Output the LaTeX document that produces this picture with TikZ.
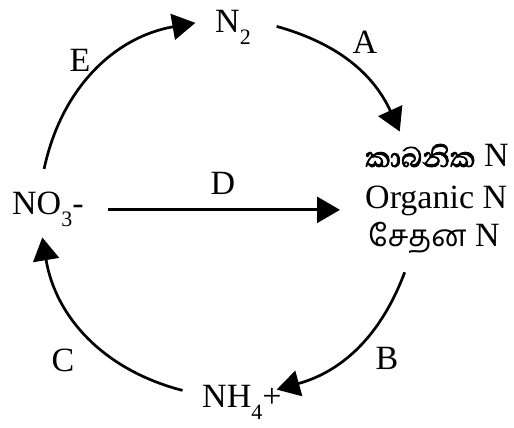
\documentclass[tikz,border=0pt]{standalone}
\usepackage{fontspec}
\setmainfont{Liberation Serif}
\newfontfamily\sinfont[Script=Sinhala,FakeBold=2.2]{Abhaya Libre}
\newfontfamily\tamfont[Script=Tamil]{Hind Madurai}
\usetikzlibrary{arrows.meta,calc}
\newcommand\chemsub[1]{\raisebox{-12pt}{\fontsize{22}{22}\selectfont #1}}

\begin{document}
\begin{tikzpicture}[x=1pt,y=1pt,
  txt/.style={inner sep=0pt, font=\fontsize{34}{40}\selectfont},
  cyc/.style={line width=2.7pt, -{Triangle[length=23pt,width=26pt]}}]
\useasboundingbox (0,0) rectangle (514,428);

% Forms of nitrogen
\node[txt, anchor=base west] (n2) at (215,395) {N\chemsub{2}};
\node[txt, anchor=base west] (no3) at (12,213) {NO\chemsub{3}-};
\node[txt, anchor=base west] (nh4) at (202,20) {NH\chemsub{4}+};
\node[txt, anchor=base west] (si) at (365,261) {{\sinfont\fontsize{36}{40}\selectfont කාබනික} N};
\node[txt, anchor=base west] (org) at (365,219) {Organic N};
\node[txt, anchor=base west] (ta) at (368,181) {{\tamfont\fontsize{30}{40}\selectfont சேதன} N};

% Points on the cycle
\coordinate (c) at (228,220);
\coordinate (e0) at ($(c)+(168:188)$);
\coordinate (e1) at ($(c)+(100:188)$);
\coordinate (a0) at ($(c)+(75:188)$);
\coordinate (a1) at ($(c)+(24:188)$);
\coordinate (b0) at ($(c)+(-20:188)$);
\coordinate (b1) at ($(c)+(-75:188)$);
\coordinate (c0) at ($(c)+(-104:188)$);
\coordinate (c1) at ($(c)+(-171:188)$);

% Arrows of the cycle
\draw[cyc] (e0) to[bend left=34] (e1);
\draw[cyc] (a0) to[bend left=25] (a1);
\draw[cyc] (b0) to[bend left=27] (b1);
\draw[cyc] (c0) to[bend left=33] (c1);
\draw[cyc] ([xshift=24pt]no3.east) -- ([xshift=-25pt]no3.east -| org.west);

% Step labels
\node[txt] (le) at (80,368) {E};
\node[txt] (la) at (365,386) {A};
\node[txt] (lb) at (387,70) {B};
\node[txt] (lc) at (63,68) {C};
\node[txt] (ld) at (223,245) {D};

\end{tikzpicture}
\end{document}
